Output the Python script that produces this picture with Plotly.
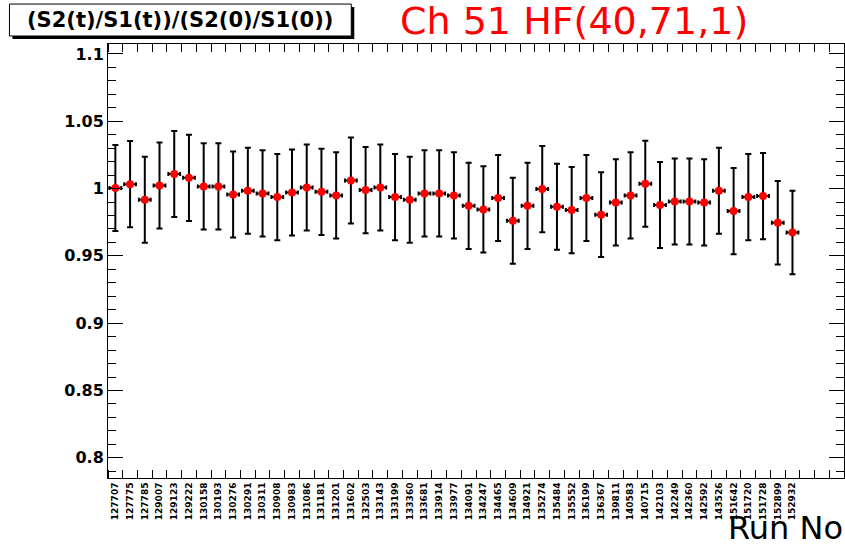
import plotly.graph_objects as go

runs = ["127707","127775","127785","129007","129123","129222","130158","130193","130276",
        "130291","130311","130908","130983","131086","131181","131201","131602","132503",
        "133143","133199","133360","133681","133914","133977","134091","134247","134465",
        "134609","134921","135274","135484","135552","136199","136367","139811","140583",
        "140715","142103","142249","142360","142592","143526","151642","151720","151728",
        "152899","152932"]

ratio = [1.0004, 1.0033, 0.9917, 1.0023, 1.0108, 1.0080, 1.0016, 1.0016, 0.9956,
         0.9984, 0.9964, 0.9937, 0.9971, 1.0008, 0.9976, 0.9949, 1.0060, 0.9989,
         1.0008, 0.9937, 0.9917, 0.9964, 0.9964, 0.9949, 0.9872, 0.9845, 0.9930,
         0.9761, 0.9872, 0.9996, 0.9865, 0.9840, 0.9930, 0.9806, 0.9897, 0.9949,
         1.0036, 0.9878, 0.9904, 0.9904, 0.9897, 0.9984, 0.9833, 0.9937, 0.9944,
         0.9746, 0.9674]

err = [0.032] * 33 + [0.0315] + [0.032] * 11 + [0.031, 0.031]

n_bins = 50
y_ticks = [0.8, 0.85, 0.9, 0.95, 1.0, 1.05, 1.1]
y_tick_text = ["0.8", "0.85", "0.9", "0.95", "1", "1.05", "1.1"]

W, H = 845, 547
# plot frame in window pixels: x 107.6..844, y 44..478.5
ML = 107.6
MR = W - 844
MT = 44
MB = H - 478.5
PW = W - ML - MR
PH = H - MT - MB

def px(x):
    return (x - ML) / PW

def py(y):
    return 1 - (y - MT) / PH

idx = list(range(len(runs)))

fig = go.Figure()
fig.add_trace(go.Scatter(
    x=idx, y=ratio, mode="markers",
    marker=dict(color="#ff0000", size=8, symbol="circle"),
    error_y=dict(type="data", array=err, color="black", thickness=2, width=3),
    error_x=dict(type="constant", value=0.4, color="black", thickness=2, width=2),
    showlegend=False,
))

fig.update_layout(
    width=W, height=H,
    margin=dict(l=ML, r=MR, t=MT, b=MB, pad=0, autoexpand=False),
    paper_bgcolor="white", plot_bgcolor="white",
    font=dict(family="DejaVu Sans", color="black"),
    xaxis=dict(
        range=[-0.5, n_bins - 0.5], automargin=False,
        tickmode="array", tickvals=idx, ticktext=runs, tickangle=-90,
        ticks="", showgrid=False, zeroline=False,
        showline=True, linecolor="black", linewidth=1, mirror="allticks",
        tickfont=dict(family="DejaVu Sans", size=9, weight="bold"),
        minor=dict(tickmode="linear", tick0=0.5, dtick=1, ticks="inside",
                   ticklen=8, tickcolor="black", tickwidth=1, showgrid=False),
    ),
    yaxis=dict(
        range=[0.785, 1.1074], automargin=False,
        tickmode="array", tickvals=y_ticks, ticktext=y_tick_text,
        ticks="inside", ticklen=15, tickcolor="black", tickwidth=1,
        showgrid=False, zeroline=False,
        showline=True, linecolor="black", linewidth=1, mirror="allticks",
        tickfont=dict(family="DejaVu Sans", size=16, weight="bold"),
        minor=dict(tickmode="linear", tick0=0.8, dtick=0.01, ticks="inside",
                   ticklen=8, tickcolor="black", tickwidth=1, showgrid=False),
    ),
)

# title pave with shadow
fig.add_shape(type="rect", xref="paper", yref="paper",
              x0=px(12), x1=px(354), y0=py(39), y1=py(7),
              fillcolor="black", line=dict(width=0))
fig.add_shape(type="rect", xref="paper", yref="paper",
              x0=px(9), x1=px(351), y0=py(36), y1=py(4),
              fillcolor="white", line=dict(color="black", width=1))
fig.add_annotation(xref="paper", yref="paper", x=px(180), y=py(20),
                   text="(S2(t)/S1(t))/(S2(0)/S1(0))", showarrow=False,
                   xanchor="center", yanchor="middle",
                   font=dict(family="DejaVu Sans", size=21, weight="bold", color="black"))
fig.add_annotation(xref="paper", yref="paper", x=px(574), y=py(21),
                   text="Ch 51 HF(40,71,1)", showarrow=False,
                   xanchor="center", yanchor="middle",
                   font=dict(family="DejaVu Sans", size=38, color="#ff0000"))
fig.add_annotation(xref="paper", yref="paper", x=px(845), y=py(529),
                   text="Run No", showarrow=False,
                   xanchor="right", yanchor="middle",
                   font=dict(family="DejaVu Sans", size=32, color="black"))

fig.write_html("out.html",
               config={"displayModeBar": False},
               post_script="document.body.style.margin='0';document.body.style.overflow='hidden';")
